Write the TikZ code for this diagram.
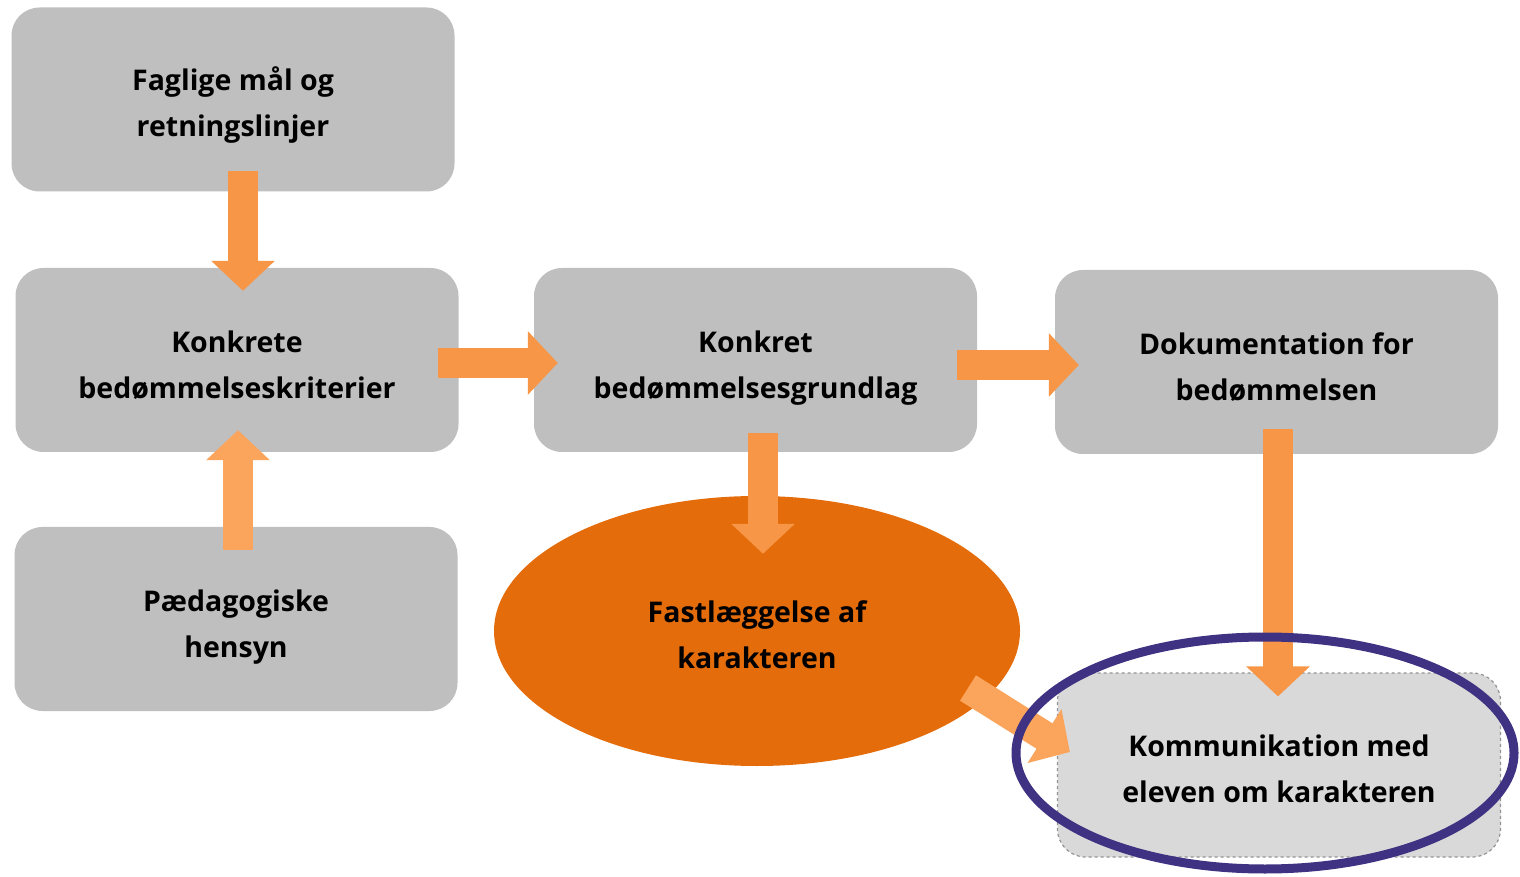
\documentclass[tikz,border=0pt]{standalone}
\usepackage{fontspec}
\setmainfont{Open Sans}
\usetikzlibrary{arrows.meta,shapes.geometric,calc}
\definecolor{boxgray}{HTML}{BFBFBF}
\definecolor{lightgray2}{HTML}{D9D9D9}
\definecolor{arrowor}{HTML}{F79646}
\definecolor{arrowlt}{HTML}{FBA55C}
\definecolor{ellor}{HTML}{E46C0A}
\definecolor{purp}{HTML}{3F3282}
\tikzset{
  txt/.style={font=\fontsize{28.5}{46}\selectfont\bfseries, align=center, inner sep=0pt},
  box/.style={fill=boxgray, draw=none, rounded corners=28pt, minimum width=443pt, minimum height=184pt},
  dbox/.style={box, fill=lightgray2, draw=gray!85, dashed, line width=1.2pt},
  bigarrow/.style={draw=arrowor, line width=30pt, -{Triangle[width=62pt,length=30pt]}},
  ltarrow/.style={bigarrow, draw=arrowlt, arrowlt},
}
\begin{document}
\begin{tikzpicture}[x=1pt,y=1pt]
\useasboundingbox (0,0) rectangle (1520,876);
\node[box] (fag) at (233,776.5) {};
\node[box] (kon) at (237,516) {};
\node[box] (paed) at (236,257) {};
\node[box] (grund) at (755.5,516) {};
\node[box] (dok) at (1276.5,514) {};
\node[dbox] (komm) at (1279,111) {};
\node[ellipse, fill=ellor, minimum width=526pt, minimum height=270pt, inner sep=0pt] (ell) at (757,245) {};
\node[txt] (tfag) at ([yshift=-6pt]fag.center) {Faglige mål og\\retningslinjer};
\node[txt] (tkon) at ([yshift=-5pt]kon.center) {Konkrete\\bedømmelseskriterier};
\node[txt] (tpaed) at ([yshift=-8pt]paed.center) {Pædagogiske\\hensyn};
\node[txt] (tgrund) at ([yshift=-8pt]grund.center) {Konkret\\bedømmelsesgrundlag};
\node[txt] (tdok) at ([yshift=-5pt]dok.center) {Dokumentation for\\bedømmelsen};
\node[txt] (tkomm) at ([yshift=-4pt]komm.center) {Kommunikation med\\eleven om karakteren};
\node[txt] (tell) at ([yshift=-4pt]ell.center) {Fastlæggelse af\\karakteren};
\coordinate (a7s) at ($(ell.center)+(211,-57)$);
\coordinate (a7e) at ($(komm.west)+(13,13)$);
\coordinate (a5s) at ($(grund.south)+(7.5,19)$);
\coordinate (a5e) at ($(ell.north)+(6,-58)$);
\draw[bigarrow] ([xshift=10pt,yshift=21pt]fag.south) -- ([xshift=6pt,yshift=-23pt]kon.north);
\draw[bigarrow] ([xshift=-21pt,yshift=-3pt]kon.east) -- ([xshift=24pt,yshift=-3pt]grund.west);
\draw[ltarrow] ([xshift=2pt,yshift=-23pt]paed.north) -- ([xshift=1pt,yshift=22pt]kon.south);
\draw[bigarrow] ([xshift=-20pt,yshift=-5pt]grund.east) -- ([xshift=24pt,yshift=-3pt]dok.west);
\draw[bigarrow] (a5s) -- (a5e);
\draw[bigarrow] ([xshift=1.5pt,yshift=25pt]dok.south) -- ([xshift=-1pt,yshift=-24pt]komm.north);
\draw[ltarrow] (a7s) -- (a7e);
\node[draw=purp, line width=9pt, ellipse, minimum width=498pt, minimum height=232pt, inner sep=0pt] (purple) at (1265,123) {};
\end{tikzpicture}
\end{document}
